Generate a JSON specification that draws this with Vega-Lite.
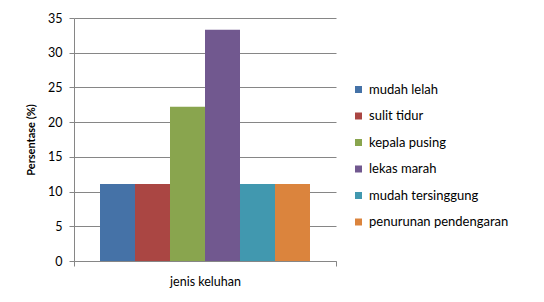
{
  "$schema": "https://vega.github.io/schema/vega-lite/v6.json",
  "width": 262,
  "height": 243,
  "autosize": {"type": "none"},
  "padding": {"left": 74, "top": 18, "right": 208, "bottom": 41},
  "background": "white",
  "config": {"view": {"stroke": null}, "font": "Lato"},
  "data": {
    "values": [
      {"kategori": "jenis keluhan", "keluhan": "mudah lelah", "persen": 11.1},
      {"kategori": "jenis keluhan", "keluhan": "sulit tidur", "persen": 11.1},
      {"kategori": "jenis keluhan", "keluhan": "kepala pusing", "persen": 22.2},
      {"kategori": "jenis keluhan", "keluhan": "lekas marah", "persen": 33.3},
      {"kategori": "jenis keluhan", "keluhan": "mudah tersinggung", "persen": 11.1},
      {"kategori": "jenis keluhan", "keluhan": "penurunan pendengaran", "persen": 11.1}
    ]
  },
  "mark": {"type": "bar"},
  "encoding": {
    "x": {
      "field": "kategori",
      "type": "nominal",
      "scale": {"paddingInner": 0, "paddingOuter": 0},
      "axis": {
        "title": null,
        "labelAngle": 0,
        "tickBand": "extent",
        "tickSize": 5,
        "tickColor": "#868686",
        "domainColor": "#868686",
        "labelFontSize": 12.5,
        "labelPadding": 9,
        "labelColor": "#000000"
      }
    },
    "xOffset": {
      "field": "keluhan",
      "sort": ["mudah lelah", "sulit tidur", "kepala pusing", "lekas marah", "mudah tersinggung", "penurunan pendengaran"],
      "scale": {"paddingInner": 0, "paddingOuter": 0.743}
    },
    "y": {
      "field": "persen",
      "type": "quantitative",
      "scale": {"domain": [0, 35]},
      "axis": {
        "values": [0, 5, 10, 15, 20, 25, 30, 35],
        "title": "Persentase (%)",
        "titleFontWeight": "bold",
        "titleFontSize": 11,
        "titleColor": "#000000",
        "titlePadding": 11,
        "grid": true,
        "gridColor": "#868686",
        "tickColor": "#868686",
        "domainColor": "#868686",
        "tickSize": 5,
        "labelPadding": 7,
        "labelFontSize": 12.5,
        "labelColor": "#000000"
      }
    },
    "color": {
      "field": "keluhan",
      "type": "nominal",
      "sort": ["mudah lelah", "sulit tidur", "kepala pusing", "lekas marah", "mudah tersinggung", "penurunan pendengaran"],
      "scale": {"range": ["#4572A7", "#AA4643", "#89A54E", "#71588F", "#4198AF", "#DB843D"]},
      "legend": {
        "title": null,
        "orient": "none",
        "legendX": 278,
        "legendY": 65,
        "symbolType": "square",
        "symbolSize": 49,
        "symbolStrokeWidth": 0,
        "labelFontSize": 13,
        "labelColor": "#000000",
        "labelOffset": 4,
        "rowPadding": 12.5
      }
    }
  }
}
